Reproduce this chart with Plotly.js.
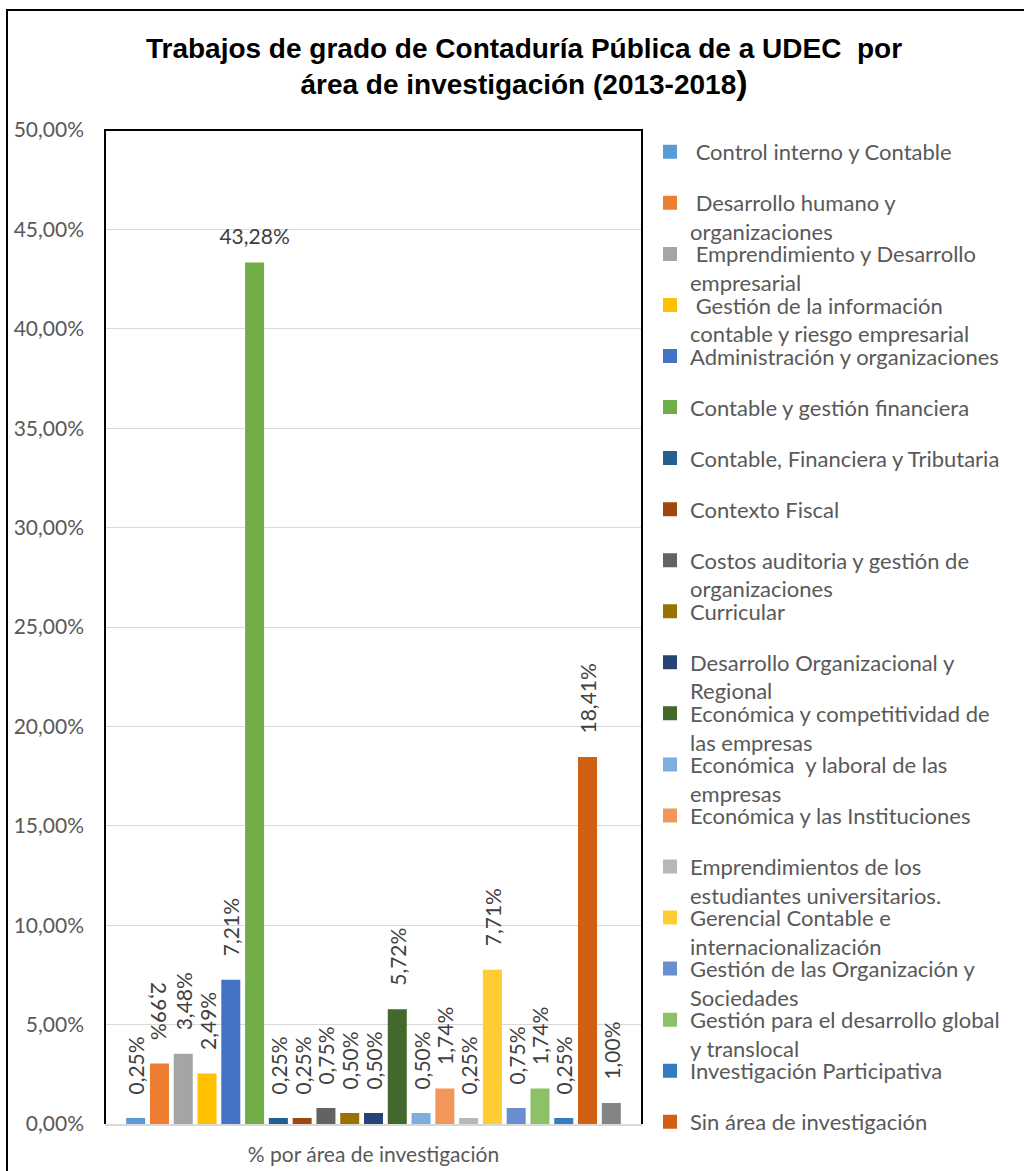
<!DOCTYPE html>
<html>
<head>
<meta charset="utf-8">
<script src="https://cdn.plot.ly/plotly-3.0.1.min.js"></script>
<style>html,body{margin:0;padding:0;background:#fff;}#chart{width:1024px;height:1171px;}</style>
</head>
<body>
<div id="chart"></div>
<script>
// ---- data ----
var category = "% por área de investigación";
var areas = [
  "\u00a0Control interno y Contable",
  "\u00a0Desarrollo humano y<br>organizaciones",
  "\u00a0Emprendimiento y Desarrollo<br>empresarial",
  "\u00a0Gestión de la información<br>contable y riesgo empresarial",
  "Administración y organizaciones",
  "Contable y gestión financiera",
  "Contable, Financiera y Tributaria",
  "Contexto Fiscal",
  "Costos auditoria y gestión de<br>organizaciones",
  "Curricular",
  "Desarrollo Organizacional y<br>Regional",
  "Económica y competitividad de<br>las empresas",
  "Económica\u00a0 y laboral de las<br>empresas",
  "Económica y las Instituciones",
  "Emprendimientos de los<br>estudiantes universitarios.",
  "Gerencial Contable e<br>internacionalización",
  "Gestión de las Organización y<br>Sociedades",
  "Gestión para el desarrollo global<br>y translocal",
  "Investigación Participativa",
  "Sin área de investigación",
  ""
];
var percents = [0.25, 2.99, 3.48, 2.49, 7.21, 43.28, 0.25, 0.25, 0.75, 0.50, 0.50,
                5.72, 0.50, 1.74, 0.25, 7.71, 0.75, 1.74, 0.25, 18.41, 1.00];
var colors = ["#5B9BD5","#ED7D31","#A5A5A5","#FFC000","#4472C4","#70AD47","#255E91",
              "#9E480E","#636363","#997300","#264478","#43682B","#7CAFDD","#F1975A",
              "#B7B7B7","#FFCD33","#698ED0","#8CC168","#327DC2","#D26012","#848484"];
var labelAngles = [-90, 90, -90, -90, -90, 0, -90, -90, -90, -90, -90,
                   -90, -90, -90, -90, -90, -90, -90, -90, -90, -90];

// ---- layout helpers (pixels -> paper) ----
var PL = 105, PR = 642, PT = 130, PB = 1124;
function px(x){ return (x - PL) / (PR - PL); }
function py(y){ return (PB - y) / (PB - PT); }

var FONT = "Lato, 'Open Sans', sans-serif";
var NB = "\u00a0\u00a0\u00a0\u00a0";

var traces = [];
var layout = {
  width: 1024, height: 1171,
  margin: {l: PL, r: 1024 - PR, t: PT, b: 1171 - PB, autoexpand: false},
  paper_bgcolor: "#fff", plot_bgcolor: "#fff",
  separators: ",.",
  barmode: "group", bargap: 0.07, bargroupgap: 0.285,
  showlegend: true,
  font: {family: FONT, size: 21, color: "#595959"},
  title: {
    text: "Trabajos de grado de Contaduría Pública de a UDEC\u00a0 por<br>área de investigación (2013-2018<span style='font-size:34px'>)</span>",
    font: {family: "'Liberation Sans', Arial, sans-serif", size: 28, color: "#000", weight: "bold"},
    xref: "container", x: 524/1024, xanchor: "center",
    yref: "container", y: 1 - 58/1171, yanchor: "top"
  },
  xaxis: {
    type: "category", showline: true, linecolor: "#D9D9D9", linewidth: 2,
    ticks: "", ticklabelstandoff: 11, tickfont: {family: FONT, size: 21, color: "#595959"},
    fixedrange: true
  },
  yaxis: {
    range: [0, 50], dtick: 5, tickformat: ".2f", ticksuffix: "%",
    showgrid: true, gridcolor: "#D9D9D9", gridwidth: 1.3, zeroline: false,
    showline: false, ticks: "", ticklabelstandoff: 20,
    tickfont: {family: FONT, size: 21, color: "#595959"}, fixedrange: true
  },
  shapes: [
    {type: "rect", xref: "paper", yref: "paper", x0: px(7), x1: px(1040), y0: py(1190), y1: py(10),
     line: {color: "#000", width: 2}, layer: "above"},
    {type: "path", xref: "paper", yref: "paper", path: "M 0,0 L 0,1 L 1,1 L 1,0",
     line: {color: "#000", width: 2}, layer: "above"}
  ]
};

for (var i = 0; i < percents.length; i++) {
  var key = i === 0 ? "legend" : "legend" + (i + 1);
  var ang = labelAngles[i];
  var tmpl, tsize = 21;
  if (ang === -90) tmpl = NB + "%{y:.2f}%";
  else if (ang === 90) tmpl = "%{y:.2f}%" + NB;
  else { tmpl = "<span style='font-size:21px'>%{y:.2f}%</span><br>\u00a0"; tsize = 11; }
  traces.push({
    type: "bar", name: areas[i], x: [category], y: [percents[i]],
    marker: {color: colors[i], line: {color: colors[i], width: 2}},
    texttemplate: tmpl, textposition: "outside", textangle: ang,
    constraintext: "none", cliponaxis: false,
    textfont: {family: FONT, size: tsize, color: "#404040"},
    legend: key, showlegend: areas[i] !== "",
    hovertemplate: "%{y:.2f}%<extra></extra>"
  });
  var lineCenter = 152 + 51.05 * i;
  layout[key] = {
    xref: "container", x: 650/1024, xanchor: "left",
    yref: "container", y: 1 - (lineCenter - 21) / 1171, yanchor: "top",
    valign: "top", bgcolor: "rgba(0,0,0,0)", borderwidth: 0,
    font: {family: FONT, size: 22, color: "#595959"},
    itemclick: false, itemdoubleclick: false
  };
}

Plotly.newPlot("chart", traces, layout, {displayModeBar: false, responsive: false});
</script>
</body>
</html>
